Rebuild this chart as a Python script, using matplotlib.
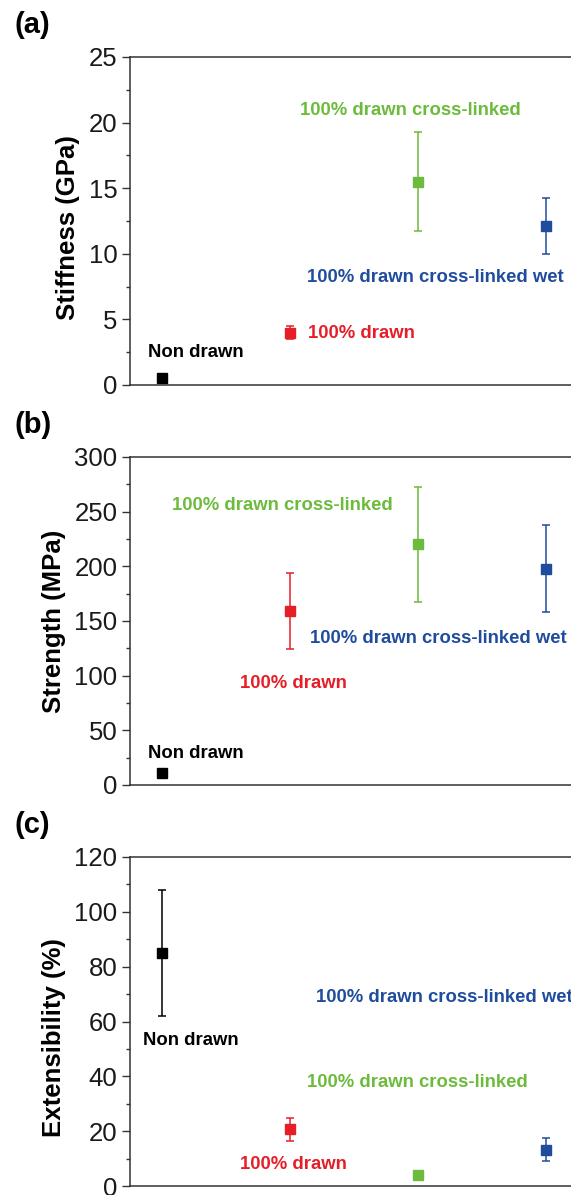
import numpy as np
import matplotlib.pyplot as plt

plt.rcParams['font.family'] = ['Liberation Sans', 'DejaVu Sans']

# samples, left to right
samples = ["Non drawn", "100% drawn", "100% drawn cross-linked", "100% drawn cross-linked wet"]
colors = ['#000000', '#e61e28', '#6cbb3c', '#1f4c9c']
xpos = [1, 2, 3, 4]

stiffness = [0.5, 4.0, 15.5, 12.1]
stiffness_err = [0.15, 0.5, 3.8, 2.15]

strength = [11, 159, 220, 198]
strength_err = [2, 35, 53, 39.5]

extensibility = [85, 20.7, 4.0, 13.3]
extensibility_err = [23, 4.2, 0.4, 4.2]

fig = plt.figure(figsize=(5.71, 11.95), dpi=100)

left = 130 / 571
width = 1 - left

panels = [
    # (values, errors, ylabel, label y, ylim, major, minor, tag, bottom px, top px, label spots)
    (stiffness, stiffness_err, "Stiffness (GPa)", 0.48, 25, 5, 2.5, "(a)", 385, 57,
     [(0.89, 2.5), (2.14, 3.96), (2.08, 20.96), (2.13, 8.2)]),
    (strength, strength_err, "Strength (MPa)", 0.5, 300, 50, 25, "(b)", 785, 457,
     [(0.89, 29), (1.61, 93), (1.08, 256), (2.16, 134)]),
    (extensibility, extensibility_err, "Extensibility (%)", 0.45, 120, 20, 10, "(c)", 1186, 857,
     [(0.85, 53), (1.61, 7.7), (2.13, 37.6), (2.2, 68.6)]),
]

for vals, errs, ylab, laby, ymax, major, minor, tag, pb, pt, spots in panels:
    ax = fig.add_axes([left, 1 - pb / 1195, width, (pb - pt) / 1195])
    for x, v, e, c in zip(xpos, vals, errs, colors):
        ax.errorbar(x, v, yerr=e, fmt='s', color=c, ms=6.5, capsize=3.2,
                    elinewidth=1.1, capthick=1.1)
    for (tx, ty), name, c in zip(spots, samples, colors):
        ax.text(tx, ty, name, color=c, fontsize=13.3, fontweight='bold',
                ha='left', va='center')
    ax.set_xlim(0.75, 4.195)
    ax.set_ylim(0, ymax)
    ax.set_xticks([])
    ax.set_yticks(np.arange(0, ymax + 0.01, major))
    ax.set_yticks(np.arange(0, ymax + 0.01, minor), minor=True)
    ax.tick_params(axis='y', which='major', length=6, width=1, labelsize=18.5,
                   color='#333333', labelcolor='#1a1a1a', pad=3)
    ax.tick_params(axis='y', which='minor', length=3, width=1, color='#333333')
    ax.spines['right'].set_visible(False)
    for s in ['left', 'top', 'bottom']:
        ax.spines[s].set_color('#333333')
        ax.spines[s].set_linewidth(1.1)
    ax.set_ylabel(ylab, fontsize=18.5, fontweight='bold', labelpad=6)
    ax.yaxis.label.set_y(laby)
    fig.text(15 / 571, 1 - (pt - 32) / 1195, tag, fontsize=21, fontweight='bold',
             ha='left', va='center')

fig.savefig("out.png", dpi=100)
